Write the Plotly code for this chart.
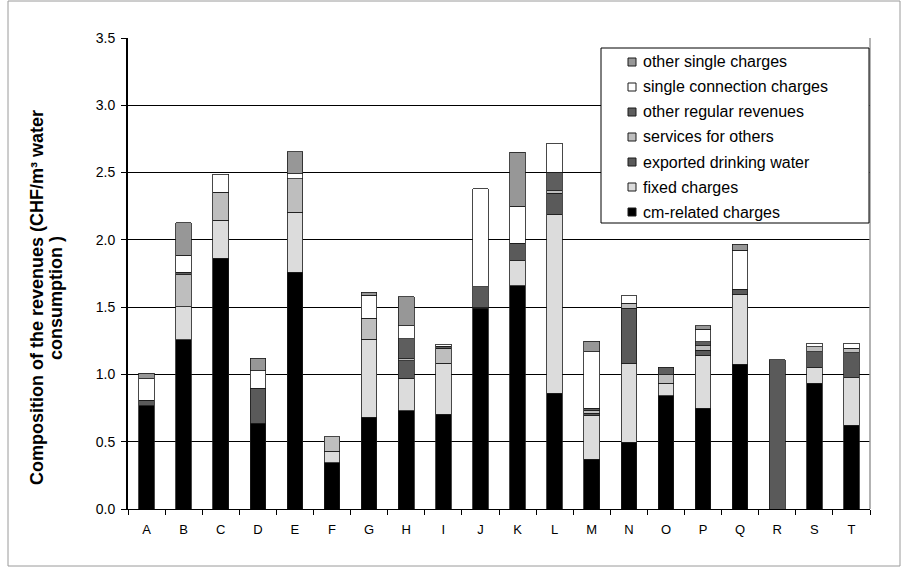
import plotly.graph_objects as go

# Utilities A..T: revenue composition in CHF per m3 of water consumed
utilities = list("ABCDEFGHIJKLMNOPQRST")

cm_related = [0.767, 1.256, 1.862, 0.637, 1.759, 0.344, 0.681, 0.730, 0.704, 1.491,
              1.659, 0.860, 0.371, 0.496, 0.842, 0.748, 1.075, 0.0, 0.934, 0.624]
fixed_charges = [0.0, 0.247, 0.285, 0.0, 0.446, 0.087, 0.582, 0.241, 0.379, 0.010,
                 0.186, 1.330, 0.327, 0.587, 0.092, 0.396, 0.522, 0.0, 0.119, 0.351]
exported_water = [0.040, 0.0, 0.0, 0.260, 0.0, 0.0, 0.0, 0.130, 0.0, 0.149,
                  0.129, 0.156, 0.015, 0.409, 0.0, 0.037, 0.037, 1.110, 0.116, 0.186]
services_others = [0.0, 0.238, 0.206, 0.0, 0.248, 0.106, 0.154, 0.015, 0.110, 0.0,
                   0.0, 0.020, 0.020, 0.037, 0.062, 0.032, 0.0, 0.0, 0.037, 0.032]
other_regular = [0.0, 0.020, 0.0, 0.0, 0.0, 0.0, 0.0, 0.148, 0.015, 0.0,
                 0.0, 0.137, 0.015, 0.0, 0.057, 0.030, 0.0, 0.0, 0.0, 0.0]
single_connection = [0.160, 0.124, 0.136, 0.129, 0.037, 0.0, 0.173, 0.099, 0.015, 0.731,
                     0.277, 0.214, 0.421, 0.057, 0.0, 0.092, 0.290, 0.0, 0.025, 0.037]
other_single = [0.040, 0.242, 0.0, 0.094, 0.163, 0.0, 0.020, 0.215, 0.0, 0.0,
                0.400, 0.0, 0.079, 0.0, 0.0, 0.025, 0.045, 0.0, 0.0, 0.0]

y_ticks = [0.0, 0.5, 1.0, 1.5, 2.0, 2.5, 3.0, 3.5]

series = [
    ("cm-related charges", cm_related, "#000000"),
    ("fixed charges", fixed_charges, "#DCDCDC"),
    ("exported drinking water", exported_water, "#5A5A5A"),
    ("services for others", services_others, "#BEBEBE"),
    ("other regular revenues", other_regular, "#5E5E5E"),
    ("single connection charges", single_connection, "#FFFFFF"),
    ("other single charges", other_single, "#979797"),
]

# plot area in pixels (figure 903 x 571)
W, H = 903, 571
L, R, T, B = 128, 870, 38, 509


def px_x(p):
    return (p - L) / (R - L)


def px_y(p):
    return (B - p) / (B - T)


FONT = "Liberation Sans, Arial, sans-serif"

fig = go.Figure()
for name, vals, color in series:
    fig.add_trace(go.Bar(
        x=utilities,
        y=[v if v > 0 else None for v in vals],
        name=name,
        width=0.42,
        showlegend=False,
        marker=dict(color=color, line=dict(color="#1a1a1a", width=0.8)),
    ))

shapes = [
    # right edge of the plot area
    dict(type="line", xref="paper", yref="paper", x0=1, x1=1, y0=0, y1=1,
         line=dict(color="#9a9a9a", width=1.5)),
    # chart frame
    dict(type="rect", xref="paper", yref="paper",
         x0=px_x(8), x1=px_x(900), y0=px_y(566), y1=px_y(1),
         line=dict(color="#9a9a9a", width=1)),
    # legend box
    dict(type="rect", xref="paper", yref="paper",
         x0=px_x(601), x1=px_x(869), y0=px_y(223), y1=px_y(48),
         fillcolor="white", line=dict(color="black", width=1), layer="above"),
]

annotations = [
    dict(text="<b>Composition of the revenues (CHF/m³ water</b>",
         xref="paper", yref="paper", x=px_x(37), y=px_y(298),
         xanchor="center", yanchor="middle", textangle=-90, showarrow=False,
         font=dict(family=FONT, size=18, color="black")),
    dict(text="<b>consumption )</b>",
         xref="paper", yref="paper", x=px_x(56), y=px_y(298),
         xanchor="center", yanchor="middle", textangle=-90, showarrow=False,
         font=dict(family=FONT, size=18, color="black")),
]

# legend entries, top to bottom
for i, (name, vals, color) in enumerate(reversed(series)):
    cy = 62 + 25 * i
    shapes.append(dict(
        type="rect", xref="paper", yref="paper",
        x0=px_x(628), x1=px_x(636), y0=px_y(cy + 4), y1=px_y(cy - 4),
        fillcolor=color, line=dict(color="#1a1a1a", width=1), layer="above"))
    annotations.append(dict(
        text=name, xref="paper", yref="paper", x=px_x(641), y=px_y(cy),
        xanchor="left", yanchor="middle", showarrow=False,
        font=dict(family=FONT, size=16, color="black")))

fig.update_layout(
    width=W, height=H,
    margin=dict(l=L, r=W - R, t=T, b=H - B, pad=0),
    paper_bgcolor="white", plot_bgcolor="white",
    barmode="stack",
    font=dict(family=FONT, size=13, color="black"),
    showlegend=False,
    xaxis=dict(
        type="category", showgrid=False,
        showline=True, linecolor="black", linewidth=1,
        ticks="outside", tickson="boundaries", ticklen=5, tickcolor="black",
        tickfont=dict(size=13), ticklabelstandoff=8,
    ),
    yaxis=dict(
        range=[0, 3.5], tickvals=y_ticks,
        ticktext=[f"{v:.1f}" for v in y_ticks],
        showgrid=True, gridcolor="black", gridwidth=1,
        showline=True, linecolor="black", linewidth=2,
        ticks="outside", ticklen=5, tickcolor="black",
        tickfont=dict(size=14), zeroline=False, ticklabelstandoff=3,
    ),
    annotations=annotations,
    shapes=shapes,
)

fig.write_html("out.html")
